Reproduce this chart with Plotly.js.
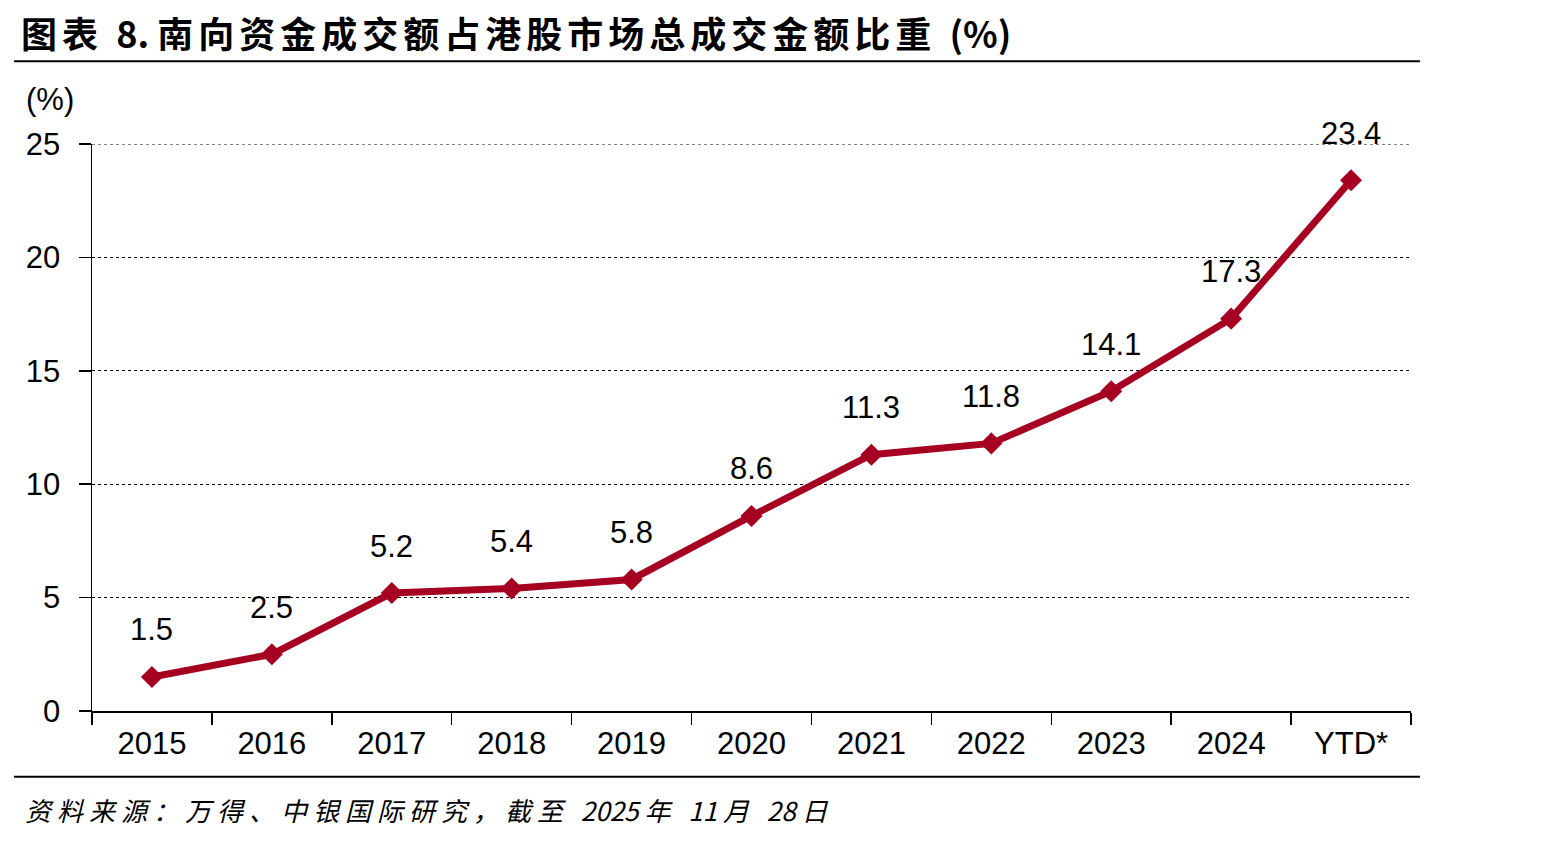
<!DOCTYPE html>
<html><head><meta charset="utf-8">
<script src="https://cdn.plot.ly/plotly-3.0.1.min.js"></script>
<style>html,body{margin:0;padding:0;background:#fff;}#chart{width:1542px;height:841px;}</style>
</head><body><div id="chart"></div>
<script>
const categories = ['2015','2016','2017','2018','2019','2020','2021','2022','2023','2024','YTD*'];
const shareValues = [1.5, 2.5, 5.2, 5.4, 5.8, 8.6, 11.3, 11.8, 14.1, 17.3, 23.4];
const yTicks = [0, 5, 10, 15, 20, 25];

const numFont = '"Liberation Sans Narrow", "Liberation Sans", Arial, sans-serif';
const cjkFont = '"Noto Sans CJK SC", sans-serif';
const red = '#A50021';

const trace = {
  x: categories, y: shareValues, type: 'scatter', mode: 'lines+markers',
  line: {color: red, width: 7},
  marker: {symbol: 'diamond', size: 17, color: red},
  hoverinfo: 'skip', cliponaxis: false
};

function sp(t, px) { return '<span style="letter-spacing:' + px + 'px">' + t + '</span>'; }

const annotations = categories.map((c, i) => ({
  x: i, y: shareValues[i], xref: 'x', yref: 'y', text: shareValues[i].toFixed(1),
  showarrow: false, yshift: 47, font: {family: numFont, size: 31, color: '#000'}
}));
annotations.push({xref:'paper', yref:'paper', x:-0.032, y:1.078, xanchor:'center', yanchor:'middle',
  text:'(%)', showarrow:false, font:{family:numFont, size:31, color:'#000'}});
annotations.push({xref:'paper', yref:'paper', x:-0.055, y:1.198, xanchor:'left', yanchor:'middle',
  text:'<b>' + sp('图表 ', 5) + '8. ' + sp('南向资金成交额占港股市场总成交金额比重 ', 5) + '(%)</b>', showarrow:false,
  font:{family:cjkFont, size:36, color:'#000'}});
annotations.push({xref:'paper', yref:'paper', x:-0.052, y:-0.174, xanchor:'left', yanchor:'middle',
  text:'<i>' + sp('资料来源：万得、中银国际研究，截至 ', 6) + '2025 ' + sp('年 ', 6) + '11 ' + sp('月 ', 6) + '28 ' + sp('日', 6) + '</i>',
  showarrow:false, font:{family:cjkFont, size:26, color:'#000'}});

const layout = {
  width: 1542, height: 841,
  margin: {l: 92, r: 131, t: 144, b: 130},
  paper_bgcolor: '#fff', plot_bgcolor: '#fff',
  showlegend: false,
  xaxis: {
    type: 'category', tickson: 'boundaries', ticks: 'outside', ticklen: 12, tickwidth: 1.5,
    tickcolor: '#000', showline: true, linecolor: '#000', linewidth: 1.5,
    showgrid: false, zeroline: false, fixedrange: true, ticklabelstandoff: 4,
    tickfont: {family: numFont, size: 31, color: '#000'}, range: [-0.5, 10.5]
  },
  yaxis: {
    range: [0, 25], tickvals: yTicks, ticks: 'outside', ticklen: 12, tickwidth: 1.5,
    tickcolor: '#000', showline: true, linecolor: '#000', linewidth: 1.5,
    showgrid: true, gridcolor: '#000', gridwidth: 1, griddash: 'dot',
    zeroline: false, fixedrange: true, ticklabelstandoff: 12,
    tickfont: {family: numFont, size: 31, color: '#000'}
  },
  shapes: [
    {type:'line', xref:'paper', yref:'y', x0:0, x1:1, y0:25, y1:25, layer:'below', line:{color:'#000', width:1, dash:'dot'}},
    {type:'line', xref:'paper', yref:'paper', x0:-0.0591, x1:1.0068, y0:1.146, y1:1.146, line:{color:'#000', width:2}},
    {type:'line', xref:'paper', yref:'paper', x0:-0.0591, x1:1.0068, y0:-0.116, y1:-0.116, line:{color:'#000', width:2}}
  ],
  annotations: annotations
};

Plotly.newPlot('chart', [trace], layout, {displayModeBar: false, staticPlot: true});
</script>
</body></html>
